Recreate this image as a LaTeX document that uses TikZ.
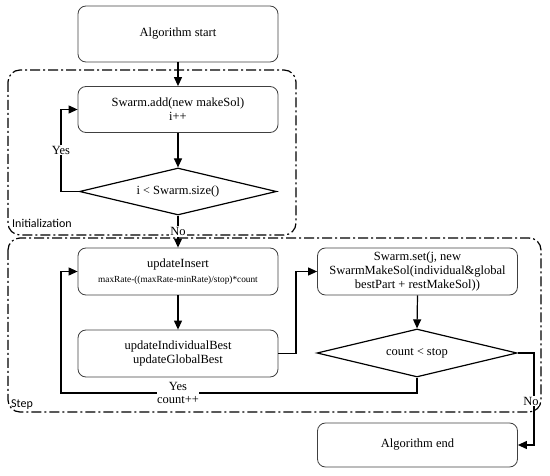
\documentclass[tikz,border=0pt]{standalone}
\usepackage{fontspec}
\setmainfont{Liberation Serif}
\newfontfamily\labelfont{Carlito}
\usetikzlibrary{shapes.geometric,arrows.meta}
\tikzset{
  x=1pt,y=-1pt,
  box/.style={draw=black!75,line width=0.8pt,rounded corners=8pt,minimum width=200pt,minimum height=46pt,align=center,inner sep=2pt,font=\fontsize{12.5}{14}\selectfont},
  cond/.style={draw=black,line width=1.2pt,diamond,aspect=4.2,minimum width=198pt,minimum height=47pt,inner sep=0pt,font=\fontsize{12.5}{14}\selectfont},
  region/.style={draw=black,line width=1.2pt,rounded corners=12pt,dash pattern=on 10pt off 3pt on 2pt off 3pt},
  arr/.style={draw=black,line width=1.2pt,-{Triangle[length=9pt,width=8pt]}},
  conn/.style={draw=black,line width=1.2pt},
  lbl/.style={fill=white,inner sep=1pt,align=center,font=\fontsize{12.5}{13}\selectfont},
  reglbl/.style={font=\labelfont\fontsize{12}{14}\selectfont,inner sep=0pt,anchor=base west}
}
\begin{document}
\begin{tikzpicture}
\useasboundingbox (0,0) rectangle (550,476);
% regions
\draw[region] (8,70) rectangle (296,235);
\draw[region] (8,238) rectangle (541,412);
\node[reglbl] (initlbl) at (12,228) {Initialization};
\node[reglbl] (steplbl) at (11,407) {Step};
% nodes
\node[box,minimum height=56pt] (start) at (178,34) {Algorithm start};
\node[box] (add) at (178,109.5) {Swarm.add(new makeSol)\\i++};
\node[cond,minimum width=197pt] (cond1) at (178,191.5) {i {\fontsize{12}{14}\selectfont<} Swarm.size()};
\node[box,minimum height=47pt] (ins) at (178,271.5) {updateInsert\\[1pt]{\fontsize{9.3}{11}\selectfont maxRate-((maxRate-minRate)/stop)*count}};
\node[box,minimum height=47pt] (best) at (178,353.5) {updateIndividualBest\\updateGlobalBest};
\node[box,minimum height=47pt] (set) at (417.5,271.5) {Swarm.set(j, new\\SwarmMakeSol(individual\&global\\bestPart + restMakeSol))};
\node[cond,aspect=4.17,minimum width=200pt,minimum height=48pt] (cond2) at (417,353) {count {\fontsize{12}{14}\selectfont<} stop};
\node[box,minimum height=44pt] (end) at (417.5,445) {Algorithm end};
% coordinates
\coordinate (ly1) at (61,150);
\coordinate (c1) at (296,310);
\coordinate (c2) at (61,393);
\coordinate (c3) at (534,401);
% connectors
\draw[arr] (start.south) -- (add.north);
\draw[arr] (add.south) -- (cond1.north);
\draw[arr] (cond1.west) -| (ly1) |- (add.west);
\node[lbl] (yes1) at (ly1) {Yes};
\draw[arr] (cond1.south) -- node[lbl,pos=0.5] (no1) {No} (ins.north);
\draw[arr] (ins.south) -- (best.north);
\draw[arr] (best.east) -| (c1) |- (set.west);
\draw[arr] (set.south) -- (cond2.north);
\draw[arr] (cond2.south) |- (c2) |- (ins.west);
\node[lbl,inner sep=0.5pt] (yes2) at (178,393) {Yes\\count++};
\draw[arr] (cond2.east) -| (c3) |- (end.east);
\node[lbl,inner sep=0.5pt] (no2) at (531,401) {No};
\end{tikzpicture}
\end{document}
